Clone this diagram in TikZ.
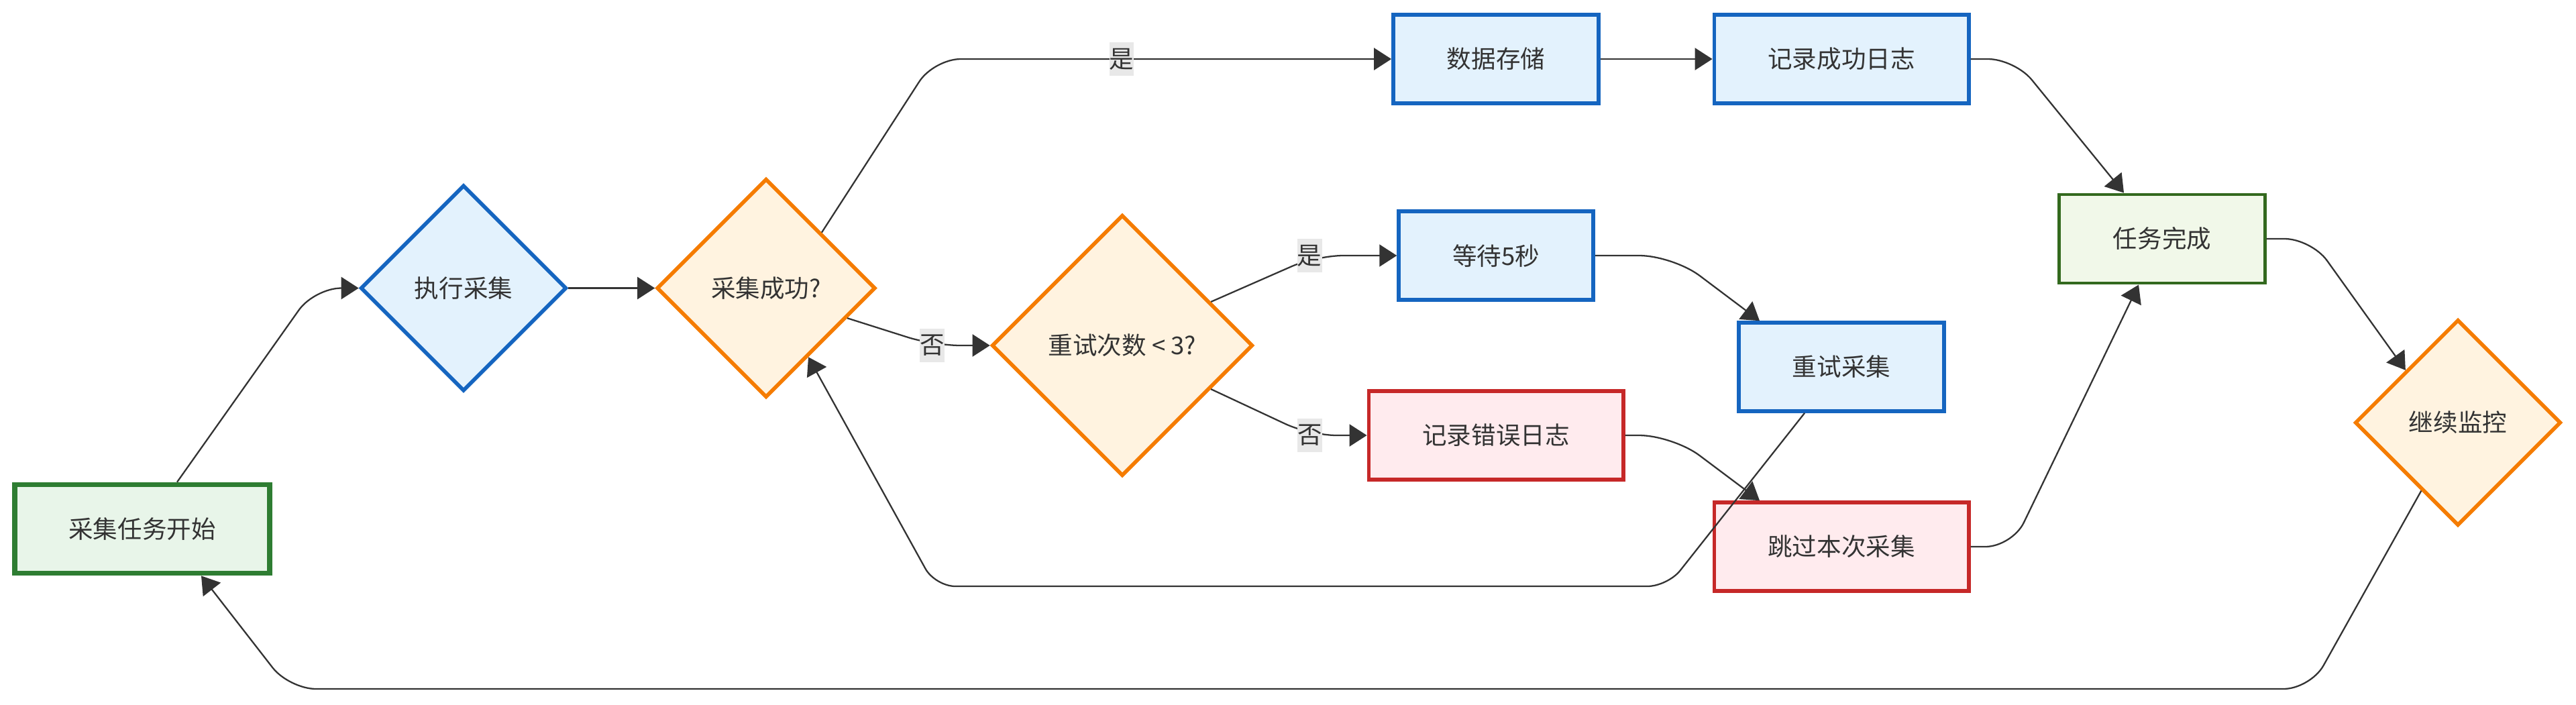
\documentclass[tikz,border=0pt]{standalone}
\usepackage{fontspec}
\setmainfont{Noto Sans CJK SC}
\usepackage{xcolor}
\usepackage{tikz}
\usetikzlibrary{positioning}
\usetikzlibrary{shapes.geometric,arrows.meta}
\usetikzlibrary{calc}

\definecolor{txt}{HTML}{333333}
\definecolor{startfill}{HTML}{E8F5E9}
\definecolor{startline}{HTML}{2E7D32}
\definecolor{donefill}{HTML}{F1F8E9}
\definecolor{doneline}{HTML}{33691E}
\definecolor{procfill}{HTML}{E3F2FD}
\definecolor{procline}{HTML}{1565C0}
\definecolor{errfill}{HTML}{FFEBEE}
\definecolor{errline}{HTML}{C62828}
\definecolor{askfill}{HTML}{FFF3E0}
\definecolor{askline}{HTML}{F57C00}
\definecolor{lblfill}{HTML}{E8E8E8}

\begin{document}
\begin{tikzpicture}[
    font=\fontsize{10.4}{12}\selectfont, text=txt,
    box/.style={rectangle, inner xsep=0.8cm, inner ysep=0pt, minimum height=1.32cm, line width=1.6pt},
    startbox/.style={box, fill=startfill, draw=startline, line width=2.2pt, minimum height=1.32cm},
    donebox/.style={box, fill=donefill, draw=doneline, line width=1.4pt},
    procbox/.style={box, fill=procfill, draw=procline},
    errbox/.style={box, fill=errfill, draw=errline},
    ask/.style={diamond, inner sep=0pt, line width=1.6pt, fill=askfill, draw=askline},
    lbl/.style={fill=lblfill, inner xsep=0pt, inner ysep=0.09cm},
    flow/.style={draw=txt, line width=0.65pt, rounded corners=0.4cm,
                 -{Triangle[length=0.26cm, width=0.33cm]}}]
  %\draw [help lines, dotted] (0,0) grid (38.4,-10.5);
  \useasboundingbox (0,0) rectangle (38.4,-10.5);

  \node(Start)   [startbox] at (2.12,-7.885) {采集任务开始};
  \node(Exec)    [ask, fill=procfill, draw=procline, minimum width=3.07cm, minimum height=3.07cm]
                 at (6.91,-4.295) {执行采集};
  \node(Succ)    [ask, minimum width=3.26cm, minimum height=3.26cm] at ([xshift=4.51cm] Exec) {采集成功?};
  \node(Retry)   [ask, minimum width=3.89cm, minimum height=3.89cm] at (16.73,-5.15) {重试次数 < 3?};

  \node(Store)   [procbox] at (22.30,-0.88)          {数据存储};
  \node(LogOk)   [procbox] at ([xshift=5.15cm] Store) {记录成功日志};
  \node(Wait)    [procbox] at (22.30,-3.81)          {等待5秒};
  \node(Again)   [procbox] at (27.45,-5.47)          {重试采集};
  \node(LogErr)  [errbox]  at (22.30,-6.49)          {记录错误日志};
  \node(Skip)    [errbox]  at (27.45,-8.15)          {跳过本次采集};

  \node(Done)    [donebox] at (32.23,-3.56) {任务完成};
  \node(Monitor) [ask, minimum width=3.07cm, minimum height=3.07cm] at (36.64,-6.30) {继续监控};

  % main line
  \draw[flow] ([xshift=0.52cm] Start.north) -- ([xshift=-0.66cm] Exec.west) -- (Exec.west);
  \draw[flow] (Exec) -- (Succ);

  % success branch
  \draw[flow] (Succ.north east) -- ([xshift=-6.82cm] Store.west) -- (Store.west);
  \node(yes1) [lbl] at ([xshift=-4.02cm] Store.west) {是};
  \draw[flow] (Store) -- (LogOk);
  \draw[flow] (LogOk.east) -- ([xshift=0.66cm] LogOk.east) -- ([xshift=-0.57cm] Done.north);

  % failure branch
  \draw[flow] ($(Succ.east)!0.27!(Succ.south)$) -- ([xshift=-0.84cm] Retry.west) -- (Retry.west);
  \node(no1) [lbl] at ([xshift=-0.86cm] Retry.west) {否};

  \draw[flow] ($(Retry.east)!0.33!(Retry.north)$) -- ([xshift=-1.2cm] Wait.west) -- (Wait.west);
  \node(yes2) [lbl] at ([xshift=-1.3cm] Wait.west) {是};
  \draw[flow] ($(Retry.east)!0.33!(Retry.south)$) -- ([xshift=-0.85cm] LogErr.west) -- (LogErr.west);
  \node(no2) [lbl] at ([xshift=-0.85cm] LogErr.west) {否};

  \draw[flow, rounded corners=0.5cm] (Wait.east) -- ([xshift=1.16cm] Wait.east) -- ([xshift=-1.22cm] Again.north);
  \draw[flow, rounded corners=0.5cm] (LogErr.east) -- ([xshift=0.71cm] LogErr.east) -- ([xshift=-1.22cm] Skip.north);

  % retry loop back
  \coordinate (loopR) at (24.86,-8.74);
  \coordinate (loopL) at (13.94,-8.74);
  \draw[flow, rounded corners=0.3cm] ([xshift=-0.55cm] Again.south) -- (loopR) -- (loopL)
        -- ($(Succ.south)!0.38!(Succ.east)$);

  \draw[flow] (Skip.east) -- ([xshift=0.62cm] Skip.east) -- ([xshift=-0.35cm] Done.south);
  \draw[flow] (Done.east) -- ([xshift=0.67cm] Done.east) -- (Monitor.north west);

  % monitor loop back
  \coordinate (backR) at (34.44,-10.27);
  \coordinate (backL) at (4.31,-10.27);
  \draw[flow] ($(Monitor.south)!0.35!(Monitor.west)$) -- (backR) -- (backL) -- ([xshift=0.88cm] Start.south);

\end{tikzpicture}
\end{document}
